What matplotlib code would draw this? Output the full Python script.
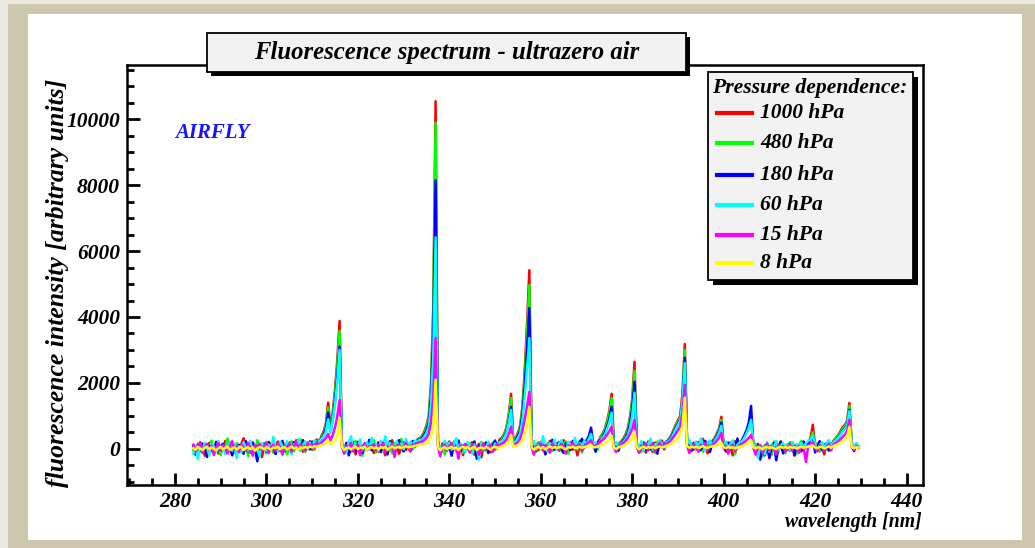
import numpy as np
import matplotlib
matplotlib.use("Agg")
import matplotlib.pyplot as plt
from matplotlib.patches import Rectangle
from matplotlib.lines import Line2D
from matplotlib.ticker import MultipleLocator

plt.rcParams['font.family'] = ['Liberation Serif', 'DejaVu Serif']
plt.rcParams['font.weight'] = 'bold'
plt.rcParams['font.style'] = 'italic'

# spectra are sampled every 0.5 nm, first sample at 284.0 nm
start_nm = 284.0
step_nm = 0.5

pressures = ["1000 hPa", "480 hPa", "180 hPa", "60 hPa", "15 hPa", "8 hPa"]
colors = ["#ff0000", "#00ff00", "#0000ff", "#00ffff", "#ff00ff", "#ffff00"]

p1000 = [
    60, -120, 150, -40, 90, -210, 30, 180, -80, 20, 120, -150, 60, -30, 240, -60, 10, -180, 90, 40,
    -90, 150, 320, -40, 70, -120, 200, 10, -60, 130, -250, 40, 90, -30, 170, -110, 60, 220, -70, 30,
    80, -140, 190, 30, -60, 260, -20, 110, -90, 170, 40, 230, -30, 150, 280, 120, 380, 520, 760, 1400,
    650, 1100, 1800, 2700, 3880, 180, -60, 140, -120, 60, 210, -170, 90, 30, -80, 160, -40, 250, 20, -130,
    70, -90, 180, 10, -200, 120, 40, 260, -60, 90, -150, 30, 200, -40, 110, -80, 160, 60, 280, 330,
    380, 520, 700, 1000, 2000, 4400, 10550, 250, -100, 160, -60, 90, 220, -140, 40, 180, -30, 110, -190, 70,
    120, -70, 200, -180, 50, 150, -260, 80, -40, 190, -110, 60, 140, 10, 280, 340, 450, 650, 1050, 1670,
    180, 320, 480, 700, 1300, 2400, 3800, 5420, 160, -90, 130, -40, 210, 60, -150, 90, 240, -70, 30, 170,
    -60, 110, 260, -110, 40, 190, -30, 150, -200, 80, 220, 20, 140, 300, 420, 90, -40, 180, 350, 450,
    600, 850, 1150, 1670, 150, -50, 120, 210, 300, 420, 600, 950, 1500, 2640, 180, -60, 140, 40, -120, 220,
    80, -100, 190, 30, 140, 250, -20, 180, 300, 400, 560, 720, 860, 1000, 1700, 3180, 220, 40, 160, -30,
    210, -80, 120, 300, 60, -140, 160, 220, 320, 460, 620, 970, 100, -90, 140, 50, -200, 230, 90, 180,
    250, 380, 500, 680, 940, 120, -60, 150, -250, 30, -180, 110, -290, 60, 170, -120, 40, 230, -90, 20,
    140, -60, 190, -210, 70, 10, 160, -40, 90, 200, 330, 730, 90, -50, 210, 60, -170, 120, 250, -30,
    240, 320, 400, 520, 650, 720, 850, 1390, 150, 20, 120, 40,
]

p480 = [
    -40, 90, -160, 200, 30, -70, 140, -20, 250, -110, 60, 10, -190, 120, 40, 310, -50, 80, -130, 170,
    30, -60, 180, 90, -220, 140, 20, -80, 260, 50, -30, 170, -140, 210, 60, -90, 120, -40, 190, -10,
    140, -170, 60, 230, -50, 110, -20, 280, 30, -100, 200, 90, 170, -40, 240, 180, 320, 470, 700, 1250,
    600, 1000, 1650, 2500, 3580, 120, -150, 60, 180, -90, 30, 240, -60, 130, -210, 80, 170, -20, 90, 260,
    -110, 50, 150, -60, 220, -20, 100, -140, 180, 40, 90, 300, -70, 130, 60, 210, -30, 170, 240, 310,
    360, 480, 650, 930, 1850, 4100, 9900, 200, -60, 110, -170, 50, 160, -30, 230, -90, 80, 140, -120, 60,
    -30, 170, -120, 90, -240, 40, 210, -70, 130, -20, 80, 190, -50, 120, 60, 300, 420, 600, 980, 1540,
    170, 300, 450, 650, 1200, 2200, 3500, 4970, 120, -140, 60, 200, -20, 110, -90, 170, 40, -60, 230, 20,
    130, -80, 90, 220, -150, 60, 180, -40, 100, 240, -110, 150, 60, 250, 400, 50, 120, -30, 320, 410,
    560, 800, 1080, 1540, 100, -90, 160, 190, 280, 380, 560, 880, 1400, 2370, 140, 30, -100, 170, 60, -40,
    190, 40, -130, 220, 90, 170, 60, 200, 280, 380, 520, 680, 820, 950, 1600, 3000, 180, -70, 120, 60,
    -20, 160, 240, -90, 110, 30, 180, 140, 290, 420, 580, 880, 60, 150, -110, 200, 80, -160, 130, 40,
    230, 350, 470, 640, 880, 90, 140, -120, 60, -230, 120, -40, 90, -190, 220, 10, -80, 150, 60, -140,
    80, 200, -40, 130, -150, 90, 240, 60, 120, 200, 280, 500, 40, 170, -90, 120, 50, -20, 190, 90,
    220, 300, 380, 480, 600, 680, 800, 1300, 120, -40, 90, 60,
]

p180 = [
    110, -180, 40, -70, 160, 60, -250, 90, 20, -120, 210, -40, 80, 150, -90, 30, 190, -200, 70, -30,
    120, 40, -150, 230, -80, 60, 170, -30, -380, 100, 20, 150, -90, 200, -40, 90, -160, 130, 60, 240,
    -70, 180, 30, -120, 200, 90, 150, -60, 260, 50, 170, -20, 220, 100, 180, 250, 300, 420, 620, 1100,
    520, 900, 1450, 2200, 3100, 90, -60, 180, -200, 40, 130, -80, 210, 70, -130, 160, 30, 270, -40, 100,
    20, 190, -100, 140, 60, -170, 230, 80, -50, 150, 260, 40, -80, 190, 120, -30, 240, 130, 220, 280,
    310, 420, 560, 800, 1600, 3500, 8150, 150, -120, 60, 180, -40, 90, -210, 130, 40, 250, -60, 110, 20,
    160, -90, 60, 220, -300, 80, 140, -20, 190, -130, 50, 110, 250, 30, 160, 240, 360, 520, 820, 1270,
    140, 260, 400, 560, 1050, 1900, 3000, 4270, 90, 60, -80, 150, 30, 190, -170, 40, 120, 270, -30, 80,
    200, 30, -130, 160, 90, -40, 240, 110, 60, 180, 300, 140, 250, 380, 640, 120, -90, 200, 260, 350,
    480, 680, 900, 1270, 70, 130, -60, 170, 240, 330, 480, 760, 1200, 2030, 100, -110, 60, 190, -40, 140,
    -20, 170, 90, -150, 210, 60, 130, 230, 250, 340, 480, 630, 760, 900, 1500, 2760, 140, 60, -60, 180,
    90, 200, -40, 150, 230, 70, -100, 160, 260, 380, 530, 790, 40, -60, 190, 100, 220, -30, 310, 80,
    260, 400, 560, 800, 1300, 60, -120, 100, -330, 50, -200, 140, -260, 30, 180, -350, 60, 200, -140, 90,
    -30, 150, 60, -190, 120, 40, -80, 220, 60, 150, 300, 380, -110, 80, 230, -40, 110, 170, -60, 140,
    180, 260, 330, 430, 540, 620, 720, 1180, 110, -70, 140, 30,
]

p60 = [
    -150, 60, -320, 110, -50, 180, 40, -200, 130, 70, -90, 240, -20, 100, -160, 50, 200, -60, 150, -280,
    80, -110, 200, 30, -60, 250, -140, 90, 10, -230, 170, 60, -70, 130, -20, 360, 40, -100, 220, 80,
    -40, 230, 90, -170, 140, 50, 300, -60, 120, 220, -30, 180, 80, 250, 140, 230, 290, 380, 520, 900,
    480, 880, 1350, 2050, 3000, 130, 40, -110, 210, 390, -80, 160, 50, 280, -50, 120, 200, -20, 330, 60,
    140, -60, 250, 70, 380, -40, 180, 100, -90, 230, 40, 160, -20, 300, 90, 200, 120, 250, 200, 270,
    270, 360, 480, 680, 1350, 2900, 6420, 120, 60, -80, 250, 40, 180, -30, 110, 320, -60, 150, 70, -100,
    200, 60, -150, 130, 40, -330, 170, 90, -40, 220, 100, -60, 160, 80, 200, 220, 330, 480, 780, 1180,
    120, 220, 330, 480, 880, 1600, 2450, 3360, 100, 240, -40, 130, 60, 380, 20, -90, 170, 90, 280, -30,
    150, 260, 40, -70, 210, 120, 60, 330, -20, 170, 90, 240, 130, 290, 450, 80, 200, 40, 230, 330,
    420, 600, 800, 1100, 80, 200, 20, 150, 200, 290, 400, 620, 1000, 1700, 120, 40, 230, -60, 180, 90,
    310, -30, 140, 80, 260, 120, 40, 210, 230, 310, 440, 590, 720, 860, 1450, 2600, 160, 280, 50, 120,
    200, 40, 320, 110, -60, 190, 250, 90, 230, 340, 480, 700, 80, 210, 30, 140, 260, -70, 120, 200,
    220, 330, 470, 640, 880, 150, 40, -280, 110, 60, -170, 200, -90, 130, 40, 240, -50, 100, 180, 20,
    130, -40, 210, 60, 120, -130, 180, 30, 170, 240, 290, 400, 120, -60, 110, 200, 40, 150, 260, 80,
    190, 250, 320, 410, 520, 600, 700, 1140, 220, 60, 180, 90,
]

p15 = [
    120, -80, 60, 200, -130, 40, 150, -40, 90, -190, 30, 170, -60, 110, 20, -150, 80, 230, -20, 60,
    -100, 140, 40, -60, 180, 20, -210, 100, 60, 150, -40, 80, 200, -130, 50, 120, -70, 170, 30, -180,
    90, 20, 160, -90, 60, 210, -30, 130, 50, -60, 170, 80, 140, 30, 200, 120, 180, 250, 330, 450,
    250, 420, 650, 1000, 1480, 60, -150, 100, 20, 180, -80, 50, 130, -200, 70, 160, -40, 90, 20, 140,
    -60, 110, 40, 190, -110, 70, 20, 150, -250, 90, 130, -20, 60, 180, 30, -80, 140, 90, 170, 200,
    210, 260, 330, 460, 800, 1600, 3360, 80, -230, 40, 130, -60, 90, 170, -20, 60, -300, 110, 30, 150,
    60, -120, 140, 30, 90, -180, 50, 170, -40, 80, 120, -90, 40, 150, 60, 150, 200, 280, 430, 670,
    60, 140, 210, 310, 550, 900, 1300, 1730, 40, -180, 90, 20, 150, -60, 110, 60, -120, 180, 30, 90,
    -40, 150, 60, -150, 100, 40, 180, -20, 90, 130, -70, 60, 150, 190, 250, 40, 100, 150, 210, 260,
    330, 430, 530, 670, 40, -100, 80, 120, 170, 230, 320, 450, 600, 880, 60, -120, 100, 30, 160, -50,
    90, 150, -80, 60, 180, 30, 120, 160, 200, 260, 350, 450, 560, 680, 1100, 1940, 90, -130, 60, 140,
    30, -90, 120, 60, 180, -40, 70, 110, 170, 240, 330, 480, 20, 90, -150, 60, 130, -80, 40, 110,
    140, 200, 260, 330, 420, 30, -180, 60, 110, -140, 50, 160, -60, 90, 20, -170, 120, 40, 80, -90,
    40, 130, -60, 90, 10, -120, 70, 20, -400, 110, 150, 200, 20, -80, 110, 40, -60, 60, 150, -50,
    130, 170, 220, 280, 360, 430, 540, 880, 60, -40, 90, 20,
]

p8 = [
    20, -30, 50, 10, -40, 30, 60, -20, 40, 0, -50, 20, 50, -10, 30, 70, -30, 10, 40, -20,
    30, 60, -40, 20, 50, -10, 40, -60, 10, 50, 30, -20, 60, 10, -30, 40, 20, 70, -10, 30,
    50, -20, 30, 60, 10, 40, -30, 50, 20, 60, 30, 70, 40, 80, 60, 90, 110, 140, 180, 250,
    120, 180, 260, 400, 940, 50, -40, 20, 40, -20, 30, 60, -10, 40, 20, 70, -30, 30, 50, 10,
    40, -20, 50, 20, 60, -30, 30, 70, 10, 40, 60, 20, 50, 80, 40, 60, 70, 90, 100, 120,
    130, 150, 180, 240, 380, 700, 2100, 40, -50, 20, 50, -10, 30, 60, 0, 40, -40, 30, 60, 20,
    50, -20, 30, 60, -40, 20, 40, 0, 50, 30, -30, 40, 60, 20, 50, 80, 100, 140, 220, 420,
    50, 80, 110, 160, 260, 450, 720, 1270, 40, -30, 30, 60, 10, 50, -20, 40, 70, 20, 50, 30,
    40, 60, 10, -20, 50, 30, 70, 20, 40, 60, 30, 50, 70, 90, 120, 40, 50, 70, 100, 140,
    180, 230, 290, 400, 40, -10, 50, 70, 90, 120, 170, 230, 320, 520, 50, -20, 40, 60, 20, 50,
    30, 60, 20, 50, 70, 40, 60, 90, 110, 140, 190, 250, 330, 450, 700, 1550, 80, 30, 60, 40,
    60, 20, 50, 80, 40, 30, 60, 70, 90, 110, 140, 180, 40, 20, 60, 30, 50, 10, 40, 60,
    80, 110, 150, 200, 270, 40, 10, 50, 30, -20, 40, 60, 20, 50, 10, -10, 40, 60, 30, 50,
    20, 60, 30, 50, 0, 40, 60, 30, 50, 70, 80, 100, 40, 20, 50, 60, 10, 40, 70, 30,
    80, 110, 140, 180, 230, 280, 360, 670, 60, 20, 50, 30,
]

spectra = [p1000, p480, p180, p60, p15, p8]

W, H = 1035, 548


def fx(px):
    return px / W


def fy(py):
    # pixel rows are counted from the top
    return 1 - py / H


def box(fig, x0, y0, x1, y1, shadow, z):
    fig.patches.append(Rectangle((fx(x0 + shadow), fy(y1 + shadow)), (x1 - x0) / W, (y1 - y0) / H,
                                 transform=fig.transFigure, facecolor="black", edgecolor="none", zorder=z))
    fig.patches.append(Rectangle((fx(x0), fy(y1)), (x1 - x0) / W, (y1 - y0) / H,
                                 transform=fig.transFigure, facecolor="#f2f2f2", edgecolor="black",
                                 linewidth=1.3, zorder=z + 0.1))


fig = plt.figure(figsize=(W / 100, H / 100), dpi=100)
fig.patch.set_facecolor("#ebe9df")
# tan frame and white panel
fig.patches.append(Rectangle((fx(8), 0), (W - 8) / W, fy(4), transform=fig.transFigure,
                             facecolor="#cdc8ad", edgecolor="none", zorder=-10))
fig.patches.append(Rectangle((fx(28), fy(540)), (1022 - 28) / W, (540 - 14) / H, transform=fig.transFigure,
                             facecolor="white", edgecolor="none", zorder=-9))

ax = fig.add_axes([fx(127), fy(485), (923 - 127) / W, (485 - 65) / H])
ax.set_facecolor("white")

n = min(len(s) for s in spectra)
wavelength = start_nm + step_nm * np.arange(n)
for vals, col, lab in zip(spectra, colors, pressures):
    ax.plot(wavelength, vals[:n], color=col, linewidth=1.8, label=lab)

ax.set_xlim(269.5, 443.6)
ax.set_ylim(-1100, 11650)
ax.xaxis.set_major_locator(MultipleLocator(20))
ax.xaxis.set_minor_locator(MultipleLocator(5))
ax.yaxis.set_major_locator(MultipleLocator(2000))
ax.yaxis.set_minor_locator(MultipleLocator(500))
ax.tick_params(which="both", direction="in", width=2, top=False, right=False)
ax.tick_params(which="major", length=9, labelsize=15.5, pad=5)
ax.tick_params(which="minor", length=5)
for sp in ax.spines.values():
    sp.set_linewidth(1.8)
for lbl in ax.get_xticklabels() + ax.get_yticklabels():
    lbl.set_fontweight("bold")
    lbl.set_fontstyle("italic")

# title box
box(fig, 207, 33, 686, 72, 4, 5)
fig.text(fx(447), fy(53), "Fluorescence spectrum - ultrazero air", ha="center", va="center",
         fontsize=17.8, zorder=6)

# legend box
box(fig, 708, 72, 913, 280, 5, 5)
fig.text(fx(810), fy(88), "Pressure dependence:", ha="center", va="center", fontsize=15.6, zorder=6)
leg_y = [113, 143, 175, 205, 235, 263]
for yy, col, lab in zip(leg_y, colors, pressures):
    fig.add_artist(Line2D([fx(717), fx(752)], [fy(yy), fy(yy)], transform=fig.transFigure,
                          color=col, linewidth=3, zorder=6))
    fig.text(fx(760), fy(yy), lab, ha="left", va="center", fontsize=15.5, zorder=6)

fig.text(fx(212), fy(133), "AIRFLY", color="#1414ff", ha="center", va="center", fontsize=15)
fig.text(fx(58), fy(283), "fluorescence intensity [arbitrary units]", rotation=90,
         ha="center", va="center", fontsize=18.5)
fig.text(fx(922), fy(522), "wavelength [nm]", ha="right", va="center", fontsize=14.2)

fig.savefig("out.png", dpi=100, facecolor=fig.get_facecolor())
print("> save to out.png")
